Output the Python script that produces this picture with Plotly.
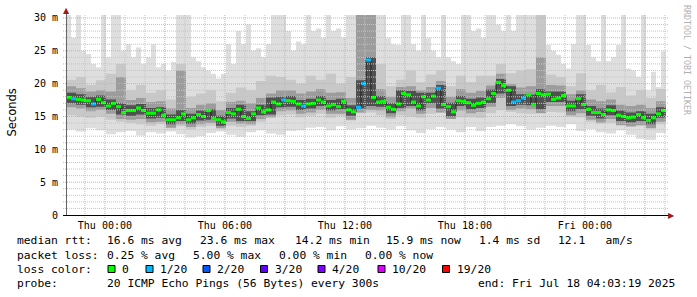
import plotly.graph_objects as go
import pandas as pd

# ---------------- data ----------------
start = pd.Timestamp("2025-07-16 22:03:19")
end = pd.Timestamp("2025-07-18 04:03:19")

# median rtt (ms), one value per 15 minutes
median_ms = [17.9,17.7,17.6,17.5,17.4,16.9,17.6,17.1,16.6,17.0,
             16.5,15.6,15.9,15.9,16.3,15.9,15.5,15.5,16.0,15.2,
             14.5,14.5,14.8,15.4,14.5,14.8,15.3,15.0,15.9,14.7,
             14.5,14.2,15.6,15.4,16.1,15.0,14.7,15.4,16.3,15.7,
             16.0,17.2,16.9,17.5,17.4,17.3,16.9,16.6,16.9,17.0,
             17.5,17.2,16.6,16.8,16.5,17.3,16.0,15.7,16.4,20.0,
             23.6,17.9,17.2,17.3,16.4,16.1,16.9,18.5,18.3,17.2,
             16.6,18.0,17.5,18.1,19.3,16.8,16.5,15.7,17.4,17.3,
             17.1,16.7,17.0,17.2,17.7,18.5,20.2,19.7,19.0,17.2,
             17.4,17.8,18.3,16.8,18.5,18.3,18.4,17.6,17.8,18.2,
             16.6,16.6,17.7,16.8,16.1,15.6,15.6,15.3,16.0,15.9,
             15.2,15.0,14.8,14.9,15.3,14.8,14.4,14.8,15.4,15.9]
# lost pings (of 20) per median sample
loss = [0,1,0,0,0,1,0,0,0,0, 0,0,0,0,0,0,0,0,0,0,
        0,0,0,0,0,0,0,0,0,0, 0,0,0,0,0,0,0,0,0,0,
        0,0,0,1,0,0,0,1,0,0, 0,0,0,0,0,0,0,0,1,1,
        1,0,0,0,0,0,0,0,0,0, 0,0,0,0,1,0,0,0,0,0,
        0,0,0,0,0,0,0,0,0,1, 1,1,0,0,0,0,0,0,0,0,
        0,0,0,0,0,0,0,0,0,0, 0,0,0,0,0,0,0,0,0,0]

# highest ping per 15 minutes (ms; values above the axis are clipped)
smoke_max = [30.5,27.0,30.5,25.0,24.5,23.0,22.5,30.5,24.0,30.5,
             30.5,25.0,26.0,24.0,25.5,23.0,24.0,26.0,22.5,23.0,
             22.0,23.3,30.5,30.5,30.5,24.0,23.4,22.5,22.0,21.5,
             20.8,21.5,26.0,23.0,28.0,26.0,29.0,25.0,25.4,24.0,
             26.0,30.5,30.5,30.5,28.0,25.0,26.4,26.0,30.5,28.0,
             28.4,27.0,30.5,28.0,28.4,27.0,30.5,30.5,30.5,30.5,
             30.5,30.5,30.5,30.5,27.0,26.0,25.9,30.5,30.5,26.0,
             25.0,30.5,27.0,25.0,24.0,30.5,24.0,23.4,23.0,30.5,
             30.5,28.0,28.4,27.0,30.5,30.5,29.0,28.0,30.5,28.0,
             30.5,30.5,30.5,30.5,30.5,30.5,25.9,25.0,24.4,23.0,
             22.3,26.0,30.5,30.5,25.9,24.0,23.4,30.5,23.4,24.0,
             25.9,30.5,22.3,22.0,21.0,30.5,19.0,21.8,19.5,24.9]
# remaining smoke bands (ms), one value per 30 minutes
smoke_min = [13.0,12.7,13.2,12.9,12.3,12.6,12.8,12.1,12.6,12.4,
             12.7,12.3,11.8,12.0,12.5,12.7,12.2,11.9,12.6,12.9,
             12.4,12.2,12.8,12.9,13.3,13.4,12.9,13.5,13.0,13.2,
             13.6,13.3,13.0,13.5,12.9,12.5,13.1,13.4,13.0,12.6,
             13.4,12.8,13.4,13.6,13.8,13.5,13.0,13.3,13.6,13.4,
             13.8,12.8,13.1,12.6,12.4,12.9,12.2,11.6,11.4,12.5]
smoke_hi2 = [20.6,21.0,19.8,20.5,21.5,23.0,19.0,19.8,18.6,19.0,
             17.6,23.0,18.0,18.5,19.0,17.3,18.6,19.4,19.0,20.4,
             21.2,21.0,20.6,20.0,21.2,20.6,21.5,20.0,21.0,30.5,
             30.5,23.0,19.6,20.6,22.0,20.2,21.4,22.0,19.6,21.2,
             20.2,21.2,21.2,23.0,21.6,22.0,22.2,30.5,21.4,21.0,
             19.6,21.6,19.0,19.8,18.7,19.5,18.2,19.0,17.8,19.2]
smoke_lo2 = [15.2,15.0,14.8,15.0,14.5,14.2,14.0,13.8,13.6,13.8,
             13.2,13.5,13.0,13.4,13.6,13.2,13.6,13.4,13.6,14.2,
             14.8,15.2,15.3,14.9,15.1,15.4,14.8,15.1,14.4,15.5,
             15.6,15.2,14.6,15.2,15.0,14.8,15.4,15.6,14.6,14.9,
             14.9,14.8,15.5,16.0,15.7,15.5,15.4,15.8,15.7,15.6,
             15.0,14.9,14.2,13.9,14.0,13.6,13.4,13.5,13.2,13.8]
smoke_hi3 = [19.6,19.3,18.8,19.0,18.8,21.0,17.5,17.8,17.2,17.3,
             16.2,22.0,16.3,16.8,17.0,16.0,17.2,17.4,17.0,17.8,
             18.5,19.0,19.0,18.5,18.8,19.2,18.6,18.7,17.8,30.5,
             30.5,19.2,18.0,19.5,19.6,19.0,19.5,20.4,18.0,19.2,
             18.6,18.9,19.7,21.5,19.9,19.4,19.6,24.0,19.8,19.7,
             18.4,19.0,17.6,17.3,17.6,16.8,16.6,16.8,16.3,17.3]
smoke_lo3 = [16.4,16.2,15.8,16.0,15.4,14.6,14.5,14.6,14.1,14.2,
             13.3,13.8,13.4,13.8,14.0,13.2,14.2,13.9,13.8,14.6,
             14.9,15.8,15.9,15.4,15.6,16.0,15.4,15.4,14.5,15.6,
             16.0,15.9,14.9,15.8,16.2,15.4,16.3,15.6,14.6,15.9,
             15.5,15.7,16.5,17.8,16.0,16.2,16.1,15.5,16.6,16.6,
             15.2,15.5,14.5,14.1,14.6,13.7,13.5,13.7,13.2,14.2]
smoke_hi4 = [18.6,18.4,18.0,18.2,17.6,17.0,16.7,16.9,16.3,16.4,
             15.3,16.0,15.4,15.9,16.1,15.1,16.3,16.8,15.8,16.8,
             17.9,18.0,18.1,17.5,17.7,18.1,17.5,17.7,16.7,20.5,
             24.0,18.1,17.0,19.0,18.9,18.6,18.6,19.8,17.1,18.1,
             17.7,17.9,19.1,20.7,19.6,18.4,18.3,19.2,18.8,18.8,
             17.4,18.4,16.6,16.2,16.7,15.9,15.6,15.8,15.4,16.4]
smoke_lo4 = [17.0,16.8,16.4,16.5,16.0,15.3,15.1,15.3,14.7,14.8,
             13.8,14.3,13.9,14.4,14.5,13.6,14.7,14.3,14.3,15.2,
             15.3,16.4,16.5,16.0,16.2,16.6,15.9,16.1,15.1,16.2,
             16.6,16.5,15.5,16.3,16.6,15.9,17.0,16.2,15.0,16.6,
             16.1,16.3,17.0,18.5,16.6,16.8,16.7,16.1,17.2,17.2,
             15.8,16.1,15.1,14.7,15.2,14.3,14.1,14.3,13.8,14.8]

x_tickvals = ["2025-07-17 00:00", "2025-07-17 06:00", "2025-07-17 12:00",
              "2025-07-17 18:00", "2025-07-18 00:00"]
x_ticktext = ["Thu 00:00", "Thu 06:00", "Thu 12:00", "Thu 18:00", "Fri 00:00"]
y_tickvals = [0, 5, 10, 15, 20, 25, 30]
y_ticktext = ["0", "5 m", "10 m", "15 m", "20 m", "25 m", "30 m"]

loss_labels = ["0", "1/20", "2/20", "3/20", "4/20", "10/20", "19/20"]
loss_levels = [0, 1, 2, 3, 4, 10, 19]
loss_colors = ["#00ff00", "#00b8ff", "#0059ff", "#5e00ff", "#7e00ff", "#dd00ff", "#ff0000"]

stats_line1 = [("median rtt:", 16), ("16.6 ms avg", 106), ("23.6 ms max", 199),
               ("14.2 ms min", 294), ("15.9 ms now", 385), ("1.4 ms sd", 478),
               ("12.1   am/s", 557)]
stats_line2 = [("packet loss:", 16), ("0.25 % avg", 106), ("5.00 % max", 192),
               ("0.00 % min", 278), ("0.00 % now", 364)]
probe_line = [("probe:", 16), ("20 ICMP Echo Pings (56 Bytes) every 300s", 106),
              ("end: Fri Jul 18 04:03:19 2025", 477)]

# ---------------- layout helpers ----------------
L, R, T, B = 66, 666, 15, 215
YMAX = 30.45
def px(x):
    return (x - L) / (R - L)
def py(y):
    return (B - y) / (B - T)

MONO = "DejaVu Sans Mono"

med_edges = [start + pd.Timedelta(minutes=15 * i) for i in range(len(median_ms) + 1)]
max_edges = [start + pd.Timedelta(minutes=15 * i) for i in range(len(smoke_max) + 1)]
smk_edges = [start + pd.Timedelta(minutes=30 * i) for i in range(len(smoke_min) + 1)]

fig = go.Figure()

def band(x_lo, lo, x_hi, hi, col):
    fig.add_trace(go.Scatter(x=x_lo, y=lo + [lo[-1]], mode="lines",
                             line=dict(width=0, shape="hv"), hoverinfo="skip",
                             showlegend=False))
    fig.add_trace(go.Scatter(x=x_hi, y=hi + [hi[-1]], mode="lines",
                             line=dict(width=0, shape="hv"), fill="tonexty",
                             fillcolor=col, hoverinfo="skip", showlegend=False))

band(smk_edges, smoke_min, max_edges, smoke_max, "#dedede")
band(smk_edges, smoke_lo2, smk_edges, smoke_hi2, "#c8c8c8")
band(smk_edges, smoke_lo3, smk_edges, smoke_hi3, "#9c9c9c")
band(smk_edges, smoke_lo4, smk_edges, smoke_hi4, "#505050")

# median connecting line
fig.add_trace(go.Scatter(x=med_edges, y=median_ms + [median_ms[-1]], mode="lines",
                         line=dict(color="#202020", width=1, shape="hv"),
                         hoverinfo="skip", showlegend=False))
# colored median segments by loss
for lvl, col in zip(loss_levels, loss_colors):
    xs, ys = [], []
    for i, (v, l) in enumerate(zip(median_ms, loss)):
        if l == lvl:
            xs += [med_edges[i], med_edges[i + 1], None]
            ys += [v, v, None]
    if xs:
        fig.add_trace(go.Scatter(x=xs, y=ys, mode="lines",
                                 line=dict(color=col, width=3),
                                 hoverinfo="skip", showlegend=False))

shapes = []
# grid lines (drawn above the smoke)
minor_c, major_c = "#c4c4c4", "#eca0a0"
for v in range(1, 31):
    shapes.append(dict(type="line", xref="paper", yref="y", x0=px(63), x1=px(669),
                       y0=v, y1=v, layer="above",
                       line=dict(color=major_c if v % 5 == 0 else minor_c, width=1, dash="1px,1px")))
hour0 = pd.Timestamp("2025-07-16 23:00")
for h in range(0, 30):
    t = hour0 + pd.Timedelta(hours=h)
    if t > end:
        break
    shapes.append(dict(type="line", xref="x", yref="paper", x0=t, x1=t, y0=py(218), y1=1,
                       layer="above",
                       line=dict(color=major_c if t.hour % 3 == 0 else minor_c, width=1, dash="1px,1px")))
# axis lines
shapes.append(dict(type="line", xref="paper", yref="paper", x0=px(66.5), x1=px(66.5),
                   y0=py(215), y1=py(12), line=dict(color="#666666", width=1), layer="above"))
shapes.append(dict(type="line", xref="paper", yref="paper", x0=px(63), x1=px(669),
                   y0=py(215.5), y1=py(215.5), line=dict(color="#000000", width=1), layer="above"))

annotations = []
def text(s, x, y, size=11.3, color="#000000", family=MONO, angle=0, xanchor="left"):
    annotations.append(dict(text=s, x=px(x), y=py(y), xref="paper", yref="paper",
                            showarrow=False, xanchor=xanchor, yanchor="middle",
                            textangle=angle, borderpad=0,
                            font=dict(family=family, size=size, color=color)))

for s, x in stats_line1:
    text(s, x, 241)
for s, x in stats_line2:
    text(s, x, 255)
text("loss color:", 16, 269)
box_x = [108, 146, 203, 260.5, 318, 378, 442.5]
for bx, lab, col in zip(box_x, loss_labels, loss_colors):
    shapes.append(dict(type="rect", xref="paper", yref="paper",
                       x0=px(bx), x1=px(bx + 7), y0=py(272.5), y1=py(265.5),
                       fillcolor=col, line=dict(color="#000000", width=1)))
    text(lab, bx + 13, 269)
for s, x in probe_line:
    text(s, x, 283)

text("Seconds", 11.5, 113, size=11.5, family="DejaVu Sans", angle=-90, xanchor="center")
text("RRDTOOL / TOBI OETIKER", 687, 60, size=8.3, color="#b0b0b0", angle=90, xanchor="center")
# axis arrows
text("\u25b2", 66.5, 10.5, size=8, color="#a01818", family="DejaVu Sans", xanchor="center")
text("\u25b6", 671.5, 215.5, size=8, color="#a01818", family="DejaVu Sans", xanchor="center")

fig.update_layout(
    width=697, height=297,
    margin=dict(l=L, r=697 - R, t=T, b=297 - B),
    paper_bgcolor="#ffffff", plot_bgcolor="#ffffff",
    shapes=shapes, annotations=annotations,
    xaxis=dict(type="date", range=[start, end], showgrid=False, zeroline=False,
               showline=False, tickvals=x_tickvals, ticktext=x_ticktext, ticks="",
               tickfont=dict(family=MONO, size=10, color="#000000"),
               ticklabelstandoff=3, fixedrange=True),
    yaxis=dict(range=[0, YMAX], showgrid=False, zeroline=False, showline=False,
               tickvals=y_tickvals, ticktext=y_ticktext, ticks="",
               tickfont=dict(family=MONO, size=10, color="#000000"),
               ticklabelstandoff=7, fixedrange=True),
    showlegend=False,
)

fig.write_html("out.html")
